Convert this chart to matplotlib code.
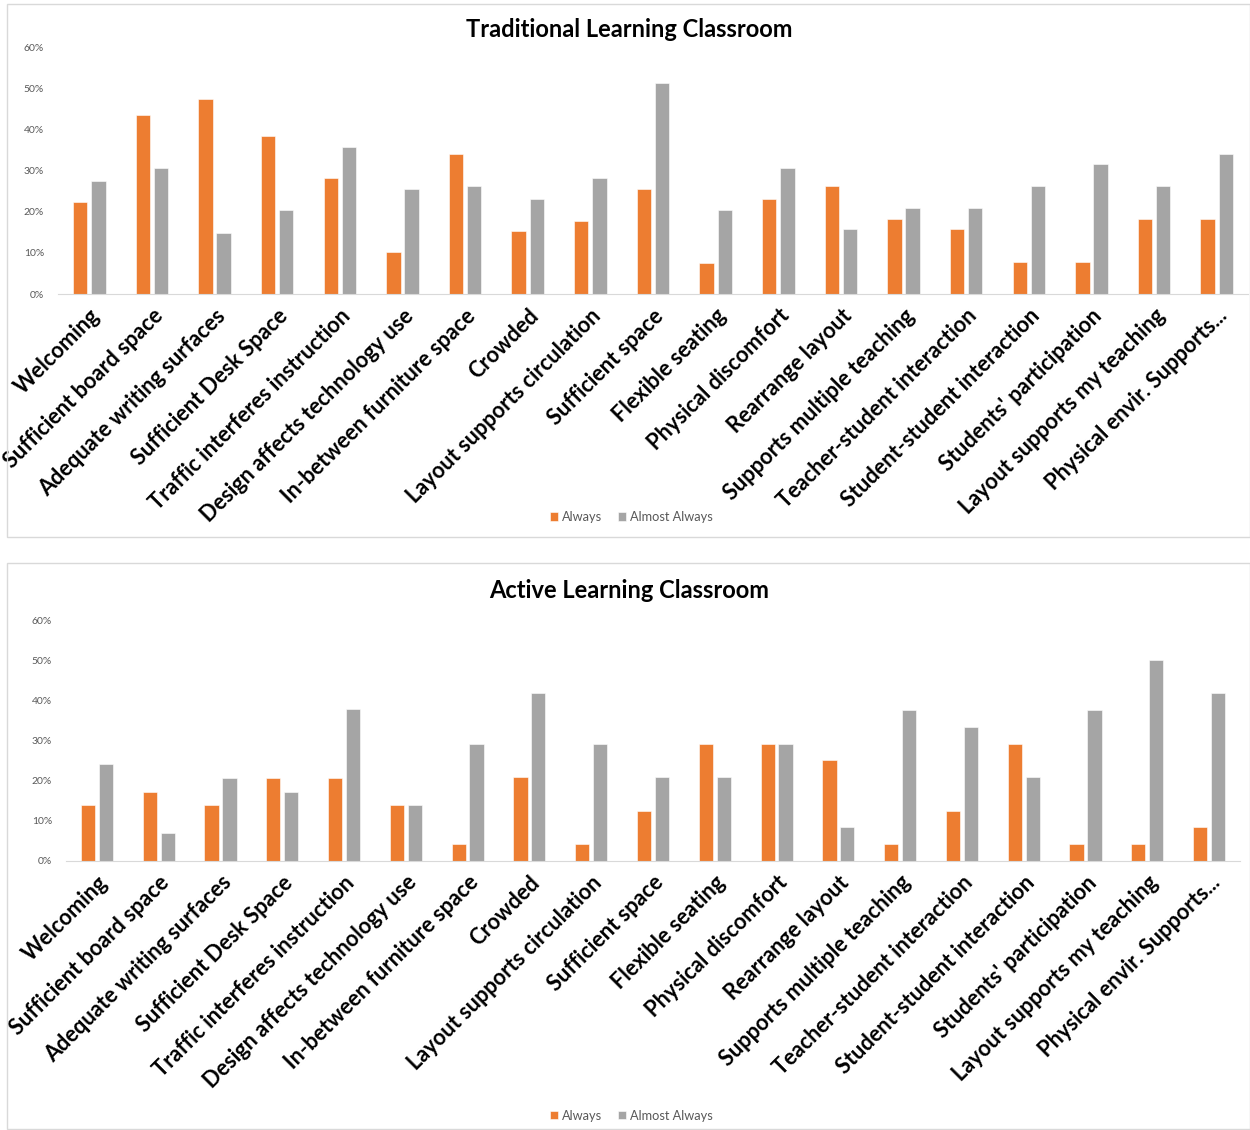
import matplotlib.pyplot as plt
from matplotlib.patches import Rectangle
import numpy as np

plt.rcParams['font.family'] = ['Lato', 'DejaVu Sans']

# Survey items (same for both classrooms)
items = ['Welcoming', 'Sufficient board space', 'Adequate writing surfaces',
         'Sufficient Desk Space', 'Traffic interferes instruction',
         'Design affects technology use', 'In-between furniture space', 'Crowded',
         'Layout supports circulation', 'Sufficient space', 'Flexible seating',
         'Physical discomfort', 'Rearrange layout', 'Supports multiple teaching',
         'Teacher-student interaction', 'Student-student interaction',
         "Students' participation", 'Layout supports my teaching',
         'Physical envir. Supports...']

# Traditional learning classroom (fractions)
trad_always = [0.224, 0.436, 0.474, 0.383, 0.281, 0.102, 0.341, 0.153, 0.178, 0.256,
               0.075, 0.230, 0.263, 0.182, 0.157, 0.078, 0.078, 0.182, 0.182]
trad_almost = [0.275, 0.307, 0.148, 0.205, 0.358, 0.256, 0.263, 0.230, 0.281, 0.513,
               0.205, 0.307, 0.157, 0.209, 0.209, 0.263, 0.315, 0.263, 0.341]

# Active learning classroom (fractions)
act_always = [0.138, 0.172, 0.138, 0.207, 0.207, 0.138, 0.042, 0.208, 0.042, 0.125,
              0.292, 0.292, 0.250, 0.042, 0.125, 0.292, 0.042, 0.042, 0.083]
act_almost = [0.241, 0.069, 0.207, 0.172, 0.379, 0.138, 0.292, 0.417, 0.292, 0.208,
              0.208, 0.292, 0.083, 0.375, 0.333, 0.208, 0.375, 0.500, 0.417]

orange = '#ED7D31'
gray = '#A5A5A5'

fig = plt.figure(figsize=(12.5, 11.3), dpi=100)

# light frames around each chart
for y0, h in [(0.5248, 0.4717), (0.0005, 0.5013)]:
    fig.patches.append(Rectangle((0.0056, y0), 0.994, h, transform=fig.transFigure,
                                 fill=False, edgecolor='#D9D9D9', linewidth=1))


def draw(rect, title, always, almost, title_y, legend_y, rot):
    ax = fig.add_axes(rect)
    x = np.arange(len(items))
    ax.bar(x - 0.145, always, 0.23, color=orange, edgecolor='white', linewidth=0.4,
           label='Always')
    ax.bar(x + 0.145, almost, 0.23, color=gray, edgecolor='white', linewidth=0.4,
           label='Almost Always')
    ax.set_xlim(-0.5, len(items) - 0.5)
    ax.set_ylim(0, 0.6)
    ax.set_yticks(np.arange(0, 0.61, 0.1))
    ax.set_yticklabels([f'{int(round(v * 100))}%' for v in np.arange(0, 0.61, 0.1)],
                       fontsize=7.5, color='#595959')
    ax.set_xticks(x)
    ax.set_xticklabels(items, rotation=rot, ha='right', rotation_mode='anchor',
                       fontsize=15.7, fontweight='bold')
    ax.tick_params(axis='both', length=0)
    ax.tick_params(axis='y', pad=10)
    ax.tick_params(axis='x', pad=8)
    for s in ['top', 'right', 'left']:
        ax.spines[s].set_visible(False)
    ax.spines['bottom'].set_color('#D9D9D9')
    fig.text(0.503, title_y, title, ha='center', va='center', fontsize=17,
             fontweight='bold')
    fig.legend(*ax.get_legend_handles_labels(), loc='center', ncol=2,
               bbox_to_anchor=(0.505, legend_y), frameon=False, fontsize=9.2,
               handlelength=0.6, handleheight=0.6, handletextpad=0.3,
               columnspacing=1.3, labelcolor='#595959')
    return ax


draw([0.0464, 0.7398, 0.952, 0.2186], 'Traditional Learning Classroom',
     trad_always, trad_almost, 0.9735, 0.5425, 45)
draw([0.0528, 0.2383, 0.9392, 0.2130], 'Active Learning Classroom',
     act_always, act_almost, 0.4775, 0.0125, 45)

fig.savefig('out.png', dpi=100)
